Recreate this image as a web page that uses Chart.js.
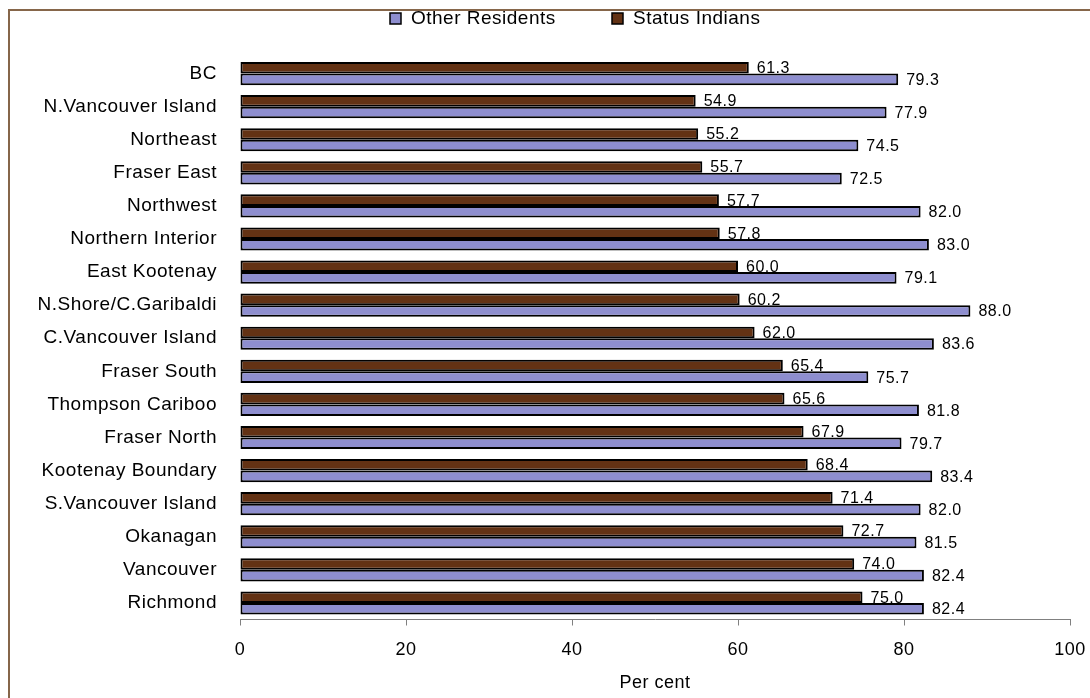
<!DOCTYPE html>
<html lang="en">
<head>
    <meta charset="UTF-8">
    <title>Per cent by region</title>
    <script src="https://cdn.jsdelivr.net/npm/chart.js@4.4.1/dist/chart.umd.min.js"></script>
    <style>
        html, body { margin: 0; padding: 0; background: #fff; }
        #wrap { width: 1090px; height: 698px; }
    </style>
</head>
<body>
<div id="wrap"><canvas id="myChart" width="1090" height="698"></canvas></div>
<script>
    const regions = ["BC", "N.Vancouver Island", "Northeast", "Fraser East", "Northwest",
        "Northern Interior", "East Kootenay", "N.Shore/C.Garibaldi", "C.Vancouver Island",
        "Fraser South", "Thompson Cariboo", "Fraser North", "Kootenay Boundary",
        "S.Vancouver Island", "Okanagan", "Vancouver", "Richmond"];
    const statusIndians = [61.3, 54.9, 55.2, 55.7, 57.7, 57.8, 60.0, 60.2, 62.0,
        65.4, 65.6, 67.9, 68.4, 71.4, 72.7, 74.0, 75.0];
    const otherResidents = [79.3, 77.9, 74.5, 72.5, 82.0, 83.0, 79.1, 88.0, 83.6,
        75.7, 81.8, 79.7, 83.4, 82.0, 81.5, 82.4, 82.4];
    const xTicks = [0, 20, 40, 60, 80, 100];

    const fontFamily = "'Liberation Sans', Arial, sans-serif";
    const brown = "#633214";
    const lavender = "#8e8ecf";

    // frame, legend and value labels
    const extras = {
        id: 'extras',
        beforeDraw(chart) {
            let ctx = chart.ctx;
            ctx.save();
            ctx.fillStyle = '#fff';
            ctx.fillRect(0, 0, chart.width, chart.height);
            ctx.strokeStyle = '#86664a';
            ctx.lineWidth = 2;
            ctx.strokeRect(9, 10, chart.width + 40, chart.height + 40);
            ctx.restore();
            // the original text is set a little loose
            ctx.letterSpacing = '0.5px';
        },
        afterDatasetsDraw(chart) {
            let ctx = chart.ctx;
            ctx.save();
            ctx.letterSpacing = '0.5px';
            ctx.font = "16px " + fontFamily;
            ctx.fillStyle = '#000';
            ctx.textAlign = 'left';
            ctx.textBaseline = 'middle';
            chart.data.datasets.forEach((ds, i) => {
                chart.getDatasetMeta(i).data.forEach((bar, j) => {
                    ctx.fillText(ds.data[j].toFixed(1), bar.x + 8, bar.y + 1);
                });
            });

            // legend (Other Residents first, as in the original)
            let items = [chart.data.datasets[1], chart.data.datasets[0]];
            let lx = [390, 612];
            ctx.font = "19px " + fontFamily;
            items.forEach((ds, k) => {
                ctx.fillStyle = ds.backgroundColor;
                ctx.fillRect(lx[k], 13, 11, 11);
                ctx.strokeStyle = '#000';
                ctx.lineWidth = 1.5;
                ctx.strokeRect(lx[k], 13, 11, 11);
                ctx.fillStyle = '#000';
                ctx.fillText(ds.label, lx[k] + 21, 19);
            });
            ctx.restore();
        },
        afterDraw(chart) {
            chart.ctx.letterSpacing = '0px';
        }
    };

    new Chart(document.getElementById('myChart'), {
        type: 'bar',
        data: {
            labels: regions,
            datasets: [
                {
                    label: "Status Indians",
                    data: statusIndians,
                    backgroundColor: brown,
                    borderColor: '#000',
                    borderWidth: 2,
                    borderSkipped: false,
                    categoryPercentage: 0.7,
                    barPercentage: 1.0,
                },
                {
                    label: "Other Residents",
                    data: otherResidents,
                    backgroundColor: lavender,
                    borderColor: '#000',
                    borderWidth: 2,
                    borderSkipped: false,
                    categoryPercentage: 0.7,
                    barPercentage: 1.0,
                },
            ]
        },
        options: {
            indexAxis: 'y',
            responsive: false,
            animation: false,
            layout: {
                padding: { top: 57, left: 0, right: 20, bottom: 0 },
            },
            plugins: {
                legend: { display: false },
                tooltip: { enabled: false },
            },
            scales: {
                x: {
                    min: 0,
                    max: 100,
                    afterBuildTicks: (scale) => {
                        scale.ticks = xTicks.map(v => ({ value: v }));
                    },
                    afterFit: (scale) => {
                        scale.height = 78.5;
                        scale.paddingLeft = 0;
                        scale.paddingRight = 0;
                    },
                    border: { display: true, color: '#808080', width: 1 },
                    grid: {
                        drawOnChartArea: false,
                        drawTicks: true,
                        tickLength: 6,
                        color: '#808080',
                    },
                    ticks: {
                        color: '#000',
                        padding: 14,
                        maxRotation: 0,
                        font: { family: fontFamily, size: 18 },
                    },
                    title: {
                        display: true,
                        text: 'Per cent',
                        color: '#000',
                        padding: { top: 0, bottom: 4 },
                        font: { family: fontFamily, size: 18 },
                    },
                },
                y: {
                    afterFit: (scale) => { scale.width = 240; },
                    border: { display: false },
                    grid: { display: false },
                    ticks: {
                        color: '#000',
                        padding: 15,
                        autoSkip: false,
                        font: { family: fontFamily, size: 19 },
                    },
                },
            },
        },
        plugins: [extras],
    });
</script>
</body>
</html>
